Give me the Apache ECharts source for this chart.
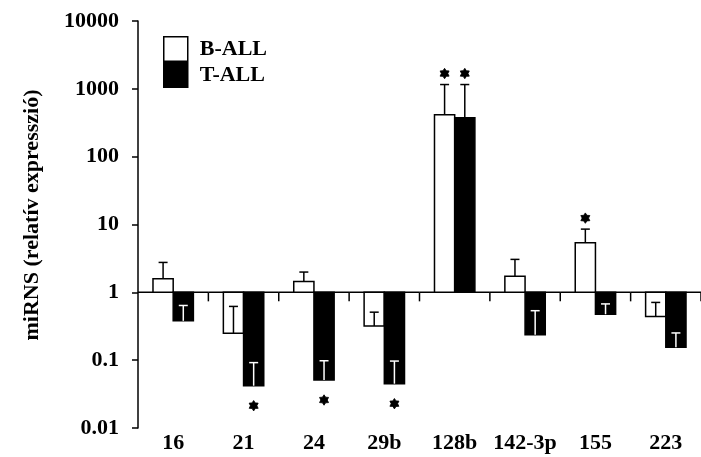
<!DOCTYPE html>
<html>
<head>
<meta charset="utf-8">
<script src="https://cdn.jsdelivr.net/npm/echarts@6/dist/echarts.min.js"></script>
<style>
  html, body { margin: 0; padding: 0; background: #fff; }
  #chart { width: 701px; height: 457px; }
</style>
</head>
<body>
<div id="chart"></div>
<script>
// miRNA expression relative to control (log scale), B-ALL vs T-ALL
const categories = ['16', '21', '24', '29b', '128b', '142-3p', '155', '223'];
const bAll    = [1.59, 0.25, 1.44, 0.32, 415, 1.72, 5.4, 0.44];
const bAllErr = [1.17, 0.37, 0.55, 0.19, 742, 1.34, 3.15, 0.27];
const tAll    = [0.38, 0.042, 0.051, 0.045, 375, 0.236, 0.475, 0.155];
const tAllErr = [0.26, 0.05, 0.047, 0.052, 782, 0.30, 0.2, 0.097];
// significance markers (1 = significant)
const sigB = [0, 0, 0, 0, 1, 0, 1, 0];
const sigT = [0, 1, 1, 1, 1, 0, 0, 0];
const yTickLabels = ['0.01', '0.1', '1', '10', '100', '1000', '10000'];
const yTitle = 'miRNS (relatív expresszió)';

const FONT = '"Liberation Serif", "Times New Roman", serif';
const chart = echarts.init(document.getElementById('chart'), null, { renderer: 'canvas' });

// small filled six-armed asterisk
function starPoints(cx, cy, r) {
  const pts = [];
  for (let k = 0; k < 12; k++) {
    const a = -Math.PI / 2 + k * Math.PI / 6;
    const rr = k % 2 === 0 ? r : r * 0.62;
    pts.push([cx + rr * Math.cos(a), cy + rr * Math.sin(a)]);
  }
  return pts;
}

function barRenderer(side, fill) {
  return function (params, api) {
    const i = api.value(0), v = api.value(1), e = api.value(2), s = api.value(3);
    const base = api.coord([i, 1]);
    const end = api.coord([i, v]);
    const band = params.coordSys.width / categories.length;
    const w = band * 0.287;
    const x0 = side < 0 ? base[0] - w : base[0];
    const cx = x0 + w / 2;
    const yErr = api.coord([i, v + e])[1];
    const errColor = (fill === '#000' && v < 1) ? '#fff' : '#000';
    const children = [
      {
        type: 'rect',
        shape: { x: x0, y: Math.min(base[1], end[1]), width: w, height: Math.abs(base[1] - end[1]) },
        style: { fill: fill, stroke: '#000', lineWidth: 1.5 }
      },
      {
        type: 'line',
        shape: { x1: cx, y1: end[1], x2: cx, y2: yErr },
        style: { stroke: errColor, lineWidth: 1.5 }
      },
      {
        type: 'line',
        shape: { x1: cx - 4.5, y1: yErr, x2: cx + 4.5, y2: yErr },
        style: { stroke: errColor, lineWidth: 1.5 }
      }
    ];
    if (s) {
      const sy = v >= 1 ? yErr - 11 : end[1] + 20;
      children.push({
        type: 'polygon',
        shape: { points: starPoints(cx, sy, 5.2) },
        style: { fill: '#000', stroke: '#000', lineWidth: 0.8 }
      });
    }
    return { type: 'group', children: children };
  };
}

// horizontal reference line at 1 with short ticks between categories
function baselineRenderer(params, api) {
  const i = api.value(0);
  const c = api.coord([i, 1]);
  const band = params.coordSys.width / categories.length;
  const xl = c[0] - band / 2, xr = c[0] + band / 2;
  return {
    type: 'group',
    children: [
      { type: 'line', shape: { x1: xl, y1: c[1], x2: xr, y2: c[1] }, style: { stroke: '#000', lineWidth: 1.5 } },
      { type: 'line', shape: { x1: xr, y1: c[1], x2: xr, y2: c[1] + 9 }, style: { stroke: '#000', lineWidth: 1.5 } }
    ]
  };
}

const option = {
  backgroundColor: '#fff',
  animation: false,
  grid: { left: 138, top: 21, width: 571, bottom: 29, containLabel: false },
  legend: {
    orient: 'vertical',
    left: 163,
    top: 36,
    padding: 0,
    itemWidth: 24,
    itemHeight: 24.5,
    itemGap: 0,
    selectedMode: false,
    textStyle: { fontFamily: FONT, fontWeight: 'bold', fontSize: 22, color: '#000', padding: [0, 0, 0, 7] },
    data: [
      { name: 'B-ALL', icon: 'rect', itemStyle: { color: '#fff', borderColor: '#000', borderWidth: 1.5 } },
      { name: 'T-ALL', icon: 'rect', itemStyle: { color: '#000', borderColor: '#000', borderWidth: 1.5 } }
    ]
  },
  xAxis: {
    type: 'category',
    data: categories,
    axisLine: { show: false },
    axisTick: { show: false },
    axisLabel: { fontFamily: FONT, fontWeight: 'bold', fontSize: 22, color: '#000', margin: 4, interval: 0 },
    splitLine: { show: false }
  },
  yAxis: {
    type: 'log',
    logBase: 10,
    min: 0.01,
    max: 10000,
    axisLine: { show: true, lineStyle: { color: '#000', width: 1.5 } },
    axisTick: { show: true, inside: false, length: 6, lineStyle: { color: '#000', width: 1.5 } },
    splitLine: { show: false },
    minorTick: { show: false },
    axisLabel: {
      fontFamily: FONT, fontWeight: 'bold', fontSize: 22, color: '#000', margin: 19,
      formatter: function (val) {
        const k = Math.round(Math.log10(val)) + 2;
        return yTickLabels[k] !== undefined ? yTickLabels[k] : '';
      }
    }
  },
  graphic: [
    {
      type: 'text',
      x: 32,
      y: 215,
      rotation: Math.PI / 2,
      style: {
        text: yTitle,
        fontFamily: FONT, fontWeight: 'bold', fontSize: 22, fill: '#000',
        textAlign: 'center', textVerticalAlign: 'middle'
      }
    }
  ],
  series: [
    {
      type: 'custom',
      name: 'baseline',
      renderItem: baselineRenderer,
      encode: { x: 0, y: 1 },
      data: categories.map((c, i) => [i, 1]),
      silent: true,
      z: 1
    },
    {
      type: 'custom',
      name: 'B-ALL',
      renderItem: barRenderer(-1, '#fff'),
      encode: { x: 0, y: 1 },
      data: bAll.map((v, i) => [i, v, bAllErr[i], sigB[i]]),
      itemStyle: { color: '#fff', borderColor: '#000' },
      z: 2
    },
    {
      type: 'custom',
      name: 'T-ALL',
      renderItem: barRenderer(1, '#000'),
      encode: { x: 0, y: 1 },
      data: tAll.map((v, i) => [i, v, tAllErr[i], sigT[i]]),
      itemStyle: { color: '#000' },
      z: 2
    }
  ]
};

chart.setOption(option);
</script>
</body>
</html>
